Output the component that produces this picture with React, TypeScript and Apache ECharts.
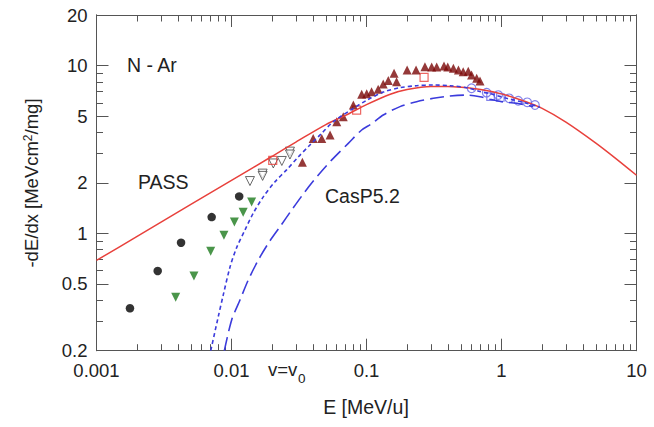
import React, { useEffect, useRef } from "react";
import * as echarts from "echarts";

// ---- data (E in MeV/u, stopping -dE/dx in MeV cm2/mg) ----
const passE = [0.001, 0.002, 0.005, 0.01, 0.02, 0.03, 0.05, 0.07, 0.1, 0.15, 0.2, 0.3, 0.4, 0.5, 0.7, 1, 1.5, 2, 3, 5, 7, 10];
const passV = [0.69, 0.96, 1.49, 2.07, 2.88, 3.5, 4.45, 5.05, 5.85, 6.75, 7.2, 7.5, 7.5, 7.42, 7.2, 6.78, 6.1, 5.55, 4.6, 3.45, 2.8, 2.22];

const shortE = [0.00702, 0.00798, 0.00869, 0.00975, 0.0109, 0.0126, 0.0145, 0.0172, 0.021, 0.0256, 0.0313, 0.0381, 0.0466, 0.0568, 0.08, 0.1, 0.133, 0.177, 0.235, 0.313, 0.415, 0.552, 0.693, 0.822, 1.09, 1.45, 1.93];
const shortV = [0.2, 0.319, 0.43, 0.63, 0.82, 1.05, 1.32, 1.65, 2.03, 2.39, 2.86, 3.36, 3.95, 4.63, 5.56, 6.2, 6.95, 7.38, 7.58, 7.66, 7.58, 7.38, 7.0, 6.8, 6.38, 6.04, 5.64];

const casE = [0.00885, 0.01003, 0.01156, 0.0133, 0.0158, 0.01874, 0.02287, 0.0279, 0.035, 0.044, 0.0553, 0.0733, 0.0921, 0.109, 0.133, 0.177, 0.235, 0.313, 0.415, 0.552, 0.693, 0.822, 1.0, 1.3, 1.72];
const casV = [0.2, 0.305, 0.401, 0.527, 0.694, 0.873, 1.096, 1.377, 1.77, 2.23, 2.74, 3.44, 4.13, 4.5, 5.07, 5.69, 6.09, 6.38, 6.58, 6.67, 6.52, 6.29, 6.09, 5.96, 5.69];

const blackDotE = [0.00177, 0.00284, 0.00423, 0.00713, 0.0114];
const blackDotV = [0.358, 0.597, 0.88, 1.25, 1.66];

const greenTriE = [0.00386, 0.00527, 0.00701, 0.00879, 0.0105, 0.0122, 0.0141];
const greenTriV = [0.416, 0.557, 0.782, 0.974, 1.17, 1.335, 1.54];

const openTriE = [0.0137, 0.017, 0.017, 0.0204, 0.0236, 0.0271, 0.0271];
const openTriV = [2.05, 2.27, 2.2, 2.61, 2.7, 3.07, 2.95];

const redSqE = [0.0202, 0.0845, 0.267];
const redSqV = [2.72, 5.43, 8.51];

const darkTriE = [0.0335, 0.0403, 0.0466, 0.0537, 0.0602, 0.0673, 0.0799, 0.0921, 0.1003, 0.109, 0.122, 0.133, 0.145, 0.16, 0.167, 0.2, 0.233, 0.271, 0.304, 0.331, 0.375, 0.4, 0.44, 0.48, 0.52, 0.567, 0.6, 0.655, 0.693];
const darkTriV = [2.65, 3.68, 3.68, 3.85, 4.63, 4.95, 5.82, 6.74, 6.8, 6.99, 7.22, 7.76, 8.13, 8.99, 8.0, 9.4, 9.4, 9.84, 9.8, 9.8, 9.94, 9.8, 9.62, 9.4, 9.19, 9.25, 8.78, 8.39, 8.1];

const blueCircE = [0.6, 0.776, 0.946, 1.14, 1.33, 1.55, 1.77];
const blueCircV = [7.32, 6.89, 6.67, 6.38, 6.17, 6.04, 5.82];

const blueSqE = [0.83, 0.98];
const blueSqV = [6.52, 6.45];

const xMajorTicks = [0.001, 0.01, 0.1, 1, 10];
const yMajorTicks = [0.2, 0.5, 1, 2, 5, 10, 20];
const yMinorTicks = [0.3, 0.4, 0.6, 0.7, 0.8, 0.9, 3, 4, 6, 7, 8, 9];
const decades = [0.001, 0.01, 0.1, 1];
const minorMult = [2, 3, 4, 5, 6, 7, 8, 9];

// ---- log scales, measured from the lower-left corner (0.001 MeV/u, 0.2 MeV cm2/mg) ----
const X0 = xMajorTicks[0];
const Y0 = yMajorTicks[0];
const lx = (e: number) => Math.log10(e / X0);
const ly = (v: number) => Math.log10(v / Y0);
const pts = (E: number[], V: number[]) => E.map((e, i) => [lx(e), ly(V[i])]);
const xMinorTicks: number[] = [];
decades.forEach((d) => minorMult.forEach((k) => xMinorTicks.push(k * d)));

const FONT = "'Liberation Sans', Arial, Helvetica, sans-serif";
const AX = "#555";
const TXT = "#222";
const fx = (v: number) => String(parseFloat((X0 * Math.pow(10, v)).toPrecision(4)));
const fy = (v: number) => String(parseFloat((Y0 * Math.pow(10, v)).toPrecision(4)));

const xMax = lx(xMajorTicks[xMajorTicks.length - 1]);
const yMax = ly(yMajorTicks[yMajorTicks.length - 1]);

const MAJ = 12;
const MIN = 6.5;

function xAx(position: string, ticks: number[], len: number, labels: boolean) {
  const far = position === "top";
  return {
    type: "value",
    position,
    min: 0,
    max: xMax,
    axisLine: far ? { show: true, onZero: false, lineStyle: { color: AX } } : { show: true, lineStyle: { color: AX } },
    axisTick: { show: true, inside: true, length: len, customValues: ticks.map(lx), lineStyle: { color: AX } },
    axisLabel: labels
      ? { show: true, customValues: ticks.map(lx), formatter: fx, fontSize: 18.5, color: TXT, fontFamily: FONT, margin: 10 }
      : { show: false },
    splitLine: { show: false },
  };
}

function yAx(position: string, ticks: number[], len: number, labels: boolean) {
  const far = position === "right";
  return {
    type: "value",
    position,
    min: 0,
    max: yMax,
    axisLine: far ? { show: true, onZero: false, lineStyle: { color: AX } } : { show: true, lineStyle: { color: AX } },
    axisTick: { show: true, inside: true, length: len, customValues: ticks.map(ly), lineStyle: { color: AX } },
    axisLabel: labels
      ? { show: true, customValues: ticks.map(ly), formatter: fy, fontSize: 18.5, color: TXT, fontFamily: FONT, margin: 9 }
      : { show: false },
    splitLine: { show: false },
  };
}

const lineSeries = (name: string, E: number[], V: number[], color: string, type: any, width = 1.5) => ({
  name,
  type: "line",
  data: pts(E, V),
  showSymbol: false,
  smooth: 0.3,
  lineStyle: { color, width, type },
});

const scatter = (name: string, E: number[], V: number[], symbol: string, size: number, item: any, rotate = 0) => ({
  name,
  type: "scatter",
  data: pts(E, V),
  symbol,
  symbolSize: size,
  symbolRotate: rotate,
  itemStyle: item,
});

const option: any = {
  animation: false,
  grid: { left: 96.5, right: 17.5, top: 15, bottom: 76.3 },
  xAxis: [
    xAx("bottom", xMajorTicks, MAJ, true),
    xAx("bottom", xMinorTicks, MIN, false),
    xAx("top", xMajorTicks, MAJ, false),
    xAx("top", xMinorTicks, MIN, false),
  ],
  yAxis: [
    yAx("left", yMajorTicks, MAJ, true),
    yAx("left", yMinorTicks, MIN, false),
    yAx("right", yMajorTicks, MAJ, false),
    yAx("right", yMinorTicks, MIN, false),
  ],
  series: [
    lineSeries("PASS", passE, passV, "#e8413c", "solid", 1.5),
    lineSeries("short dash", shortE, shortV, "#3b3bdc", [4, 3], 1.6),
    lineSeries("CasP5.2", casE, casV, "#3b3bdc", [14, 6], 1.6),
    scatter("black dots", blackDotE, blackDotV, "circle", 8.5, { color: "#000" }),
    scatter("green", greenTriE, greenTriV, "triangle", 9, { color: "#1d7a1d" }, 180),
    scatter("open triangles", openTriE, openTriV, "triangle", 9, { color: "rgba(255,255,255,0.9)", borderColor: "#444", borderWidth: 1 }, 180),
    scatter("red squares", redSqE, redSqV, "rect", 8, { color: "rgba(255,255,255,0)", borderColor: "#e8413c", borderWidth: 1.2 }),
    scatter("dark red", darkTriE, darkTriV, "triangle", 9, { color: "#7a0808" }),
    scatter("blue circles", blueCircE, blueCircV, "circle", 8.5, { color: "rgba(255,255,255,0)", borderColor: "#6464e6", borderWidth: 1.2 }),
    scatter("blue squares", blueSqE, blueSqV, "rect", 7.5, { color: "rgba(255,255,255,0)", borderColor: "#6464e6", borderWidth: 1.2 }),
  ],
  graphic: [
    { type: "text", x: 127, y: 65, style: { text: "N - Ar", fontSize: 19.5, fontFamily: FONT, fill: TXT, textVerticalAlign: "middle" } },
    { type: "text", x: 138, y: 182, style: { text: "PASS", fontSize: 19.5, fontFamily: FONT, fill: TXT, textVerticalAlign: "middle" } },
    { type: "text", x: 325, y: 195.5, style: { text: "CasP5.2", fontSize: 19.5, fontFamily: FONT, fill: TXT, textVerticalAlign: "middle" } },
    { type: "text", x: 268, y: 369, style: { text: "v=v", fontSize: 18.5, fontFamily: FONT, fill: TXT, textVerticalAlign: "middle" } },
    { type: "text", x: 298, y: 378, style: { text: "0", fontSize: 13.5, fontFamily: FONT, fill: TXT, textVerticalAlign: "middle" } },
    { type: "text", x: 366, y: 407, style: { text: "E [MeV/u]", fontSize: 19.5, fontFamily: FONT, fill: TXT, textAlign: "center", textVerticalAlign: "middle" } },
    {
      type: "text",
      x: 31,
      y: 183,
      rotation: Math.PI / 2,
      style: {
        text: "-dE/dx [MeVcm{sup|2}/mg]",
        fontSize: 18.5,
        fontFamily: FONT,
        fill: TXT,
        textAlign: "center",
        textVerticalAlign: "middle",
        rich: { sup: { fontSize: 12, verticalAlign: "top", fill: TXT, fontFamily: FONT } },
      },
    },
  ],
};

export default function App() {
  const ref = useRef<HTMLDivElement>(null);
  useEffect(() => {
    const chart = echarts.init(ref.current as HTMLDivElement, null, { renderer: "svg" });
    chart.setOption(option);
    return () => chart.dispose();
  }, []);
  return (
    <div
      ref={ref}
      style={{ position: "fixed", left: 0, top: 0, width: 654, height: 427, background: "#fff" }}
    />
  );
}
